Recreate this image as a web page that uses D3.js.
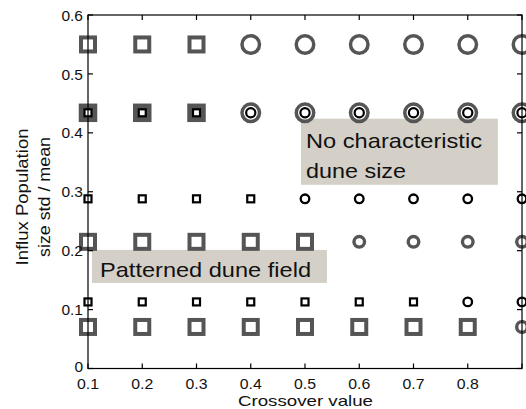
<!DOCTYPE html>
<html>
<head>
<meta charset="utf-8">
<script src="https://cdn.jsdelivr.net/npm/d3@7"></script>
<style>
  html, body { margin: 0; padding: 0; background: #fff; }
  svg { display: block; font-family: "Liberation Sans", Arial, sans-serif; }
</style>
</head>
<body>
<svg id="chart" width="526" height="409"></svg>
<script>
// ---- data ----
const crossoverValues = [0.1, 0.2, 0.3, 0.4, 0.5, 0.6, 0.7, 0.8, 0.9];
const xTickValues = [0.1, 0.2, 0.3, 0.4, 0.5, 0.6, 0.7, 0.8, 0.9];
const xTickLabels = ["0.1", "0.2", "0.3", "0.4", "0.5", "0.6", "0.7", "0.8", ""];
const yTickValues = [0, 0.1, 0.2, 0.3, 0.4, 0.5, 0.6];
const yTickLabels = ["0", "0.1", "0.2", "0.3", "0.4", "0.5", "0.6"];

// rows of the experiment grid: influx std/mean value, marker kind per crossover value
// s = square (patterned dune field), c = circle (no characteristic dune size)
const rowValues = [0.55, 0.434, 0.288, 0.215, 0.113, 0.0705];
const rowShapes = [
  ["s","s","s","c","c","c","c","c","c"],
  ["s","s","s","c","c","c","c","c","c"],
  ["s","s","s","s","c","c","c","c","c"],
  ["s","s","s","s","s","c","c","c","c"],
  ["s","s","s","s","s","s","s","c","c"],
  ["s","s","s","s","s","s","s","s","c"]
];
const rowStyle = ["bigGray", "doubleGray", "smallBlack", "midGray", "smallBlack", "midGray"];

const annotations = [
  { lines: ["No characteristic", "dune size"] },
  { lines: ["Patterned dune field"] }
];

// ---- layout ----
(function () {
const svg = d3.select("#chart");
const pL = 88, pR = 522, pT = 15, pB = 368.5;
const x = d3.scaleLinear().domain([0.1, 0.9]).range([pL, pR]);
const y = d3.scaleLinear().domain([0, 0.6]).range([pB, pT]);
const gray = "#555555";

const styles = {
  bigGray:    { sq: [14, 4, gray],  ci: [8.75, 3.5, gray] },
  midGray:    { sq: [14, 4, gray],  ci: [5.3, 3.4, gray] },
  smallBlack: { sq: [7, 2.2, "#000"], ci: [4.3, 2.3, "#000"] },
  doubleGray: { sq: [13, 5.5, gray], ci: [8.75, 3.5, gray],
                inner: { sq: [7, 2.2, "#000"], ci: [4.6, 2.2, "#000"] } }
};

const pts = [];
rowValues.forEach((rv, i) => {
  crossoverValues.forEach((cv, j) => {
    pts.push({ x: cv, y: rv, shape: rowShapes[i][j], style: rowStyle[i] });
  });
});

function drawMarker(g, d, spec) {
  const cx = x(d.x), cy = y(d.y);
  if (d.shape === "s") {
    const [s, sw, col] = spec.sq;
    g.append("rect").attr("x", cx - s/2).attr("y", cy - s/2)
      .attr("width", s).attr("height", s)
      .attr("fill", "none").attr("stroke", col).attr("stroke-width", sw);
  } else {
    const [r, sw, col] = spec.ci;
    g.append("circle").attr("cx", cx).attr("cy", cy).attr("r", r)
      .attr("fill", "none").attr("stroke", col).attr("stroke-width", sw);
  }
}

const annG = svg.append("g");
function box(x0, y0, x1, y1) {
  annG.append("rect").attr("x", x(x0)).attr("y", y(y0))
    .attr("width", x(x1) - x(x0)).attr("height", y(y1) - y(y0))
    .attr("fill", "#d4d0c8");
}
box(0.4926, 0.4240, 0.8555, 0.3118);
annG.append("text").attr("x", 306).attr("y", 148).attr("font-size", 21).attr("fill", "#111")
  .text(annotations[0].lines[0]).attr("textLength", 176).attr("lengthAdjust", "spacingAndGlyphs");
annG.append("text").attr("x", 306).attr("y", 177.5).attr("font-size", 21).attr("fill", "#111")
  .text(annotations[0].lines[1]).attr("textLength", 100).attr("lengthAdjust", "spacingAndGlyphs");
box(0.1074, 0.2013, 0.5404, 0.1452);
annG.append("text").attr("x", 100).attr("y", 276.5).attr("font-size", 21).attr("fill", "#111")
  .text(annotations[1].lines[0]).attr("textLength", 211).attr("lengthAdjust", "spacingAndGlyphs");

const mG = svg.append("g");
pts.forEach(d => {
  const spec = styles[d.style];
  drawMarker(mG, d, spec);
  if (spec.inner) drawMarker(mG, d, spec.inner);
});

const axG = svg.append("g").attr("stroke", "#000").attr("stroke-width", 1.2);
axG.append("rect").attr("x", pL).attr("y", pT).attr("width", pR - pL)
  .attr("height", pB - pT).attr("fill", "none");
const tl = 5;
xTickValues.forEach(v => {
  axG.append("line").attr("x1", x(v)).attr("x2", x(v)).attr("y1", pB).attr("y2", pB - tl);
  axG.append("line").attr("x1", x(v)).attr("x2", x(v)).attr("y1", pT).attr("y2", pT + tl);
});
yTickValues.forEach(v => {
  axG.append("line").attr("x1", pL).attr("x2", pL + tl).attr("y1", y(v)).attr("y2", y(v));
  axG.append("line").attr("x1", pR).attr("x2", pR - tl).attr("y1", y(v)).attr("y2", y(v));
});

const xlG = svg.append("g").attr("font-size", 15).attr("fill", "#111");
xTickValues.forEach((v, i) => {
  xlG.append("text").attr("x", x(v)).attr("y", 389).attr("text-anchor", "middle")
    .attr("textLength", xTickLabels[i] ? 22 : null).attr("lengthAdjust", "spacingAndGlyphs")
    .text(xTickLabels[i]);
});
const ylG = svg.append("g").attr("font-size", 15.5).attr("fill", "#111");
yTickValues.forEach((v, i) => {
  ylG.append("text").attr("x", 83).attr("y", Math.min(y(v) + 5.6, 372)).attr("text-anchor", "end")
    .text(yTickLabels[i]);
});

svg.append("text").attr("x", 305.5).attr("y", 406).attr("text-anchor", "middle")
  .attr("font-size", 14.5).attr("fill", "#111")
  .attr("textLength", 135).attr("lengthAdjust", "spacingAndGlyphs").text("Crossover value");
const yt = svg.append("g").attr("transform", "translate(0,197) rotate(-90)");
yt.append("text").attr("x", 0).attr("y", 27.5).attr("text-anchor", "middle")
  .attr("font-size", 17).attr("fill", "#111")
  .attr("textLength", 137).attr("lengthAdjust", "spacingAndGlyphs").text("Influx Population");
yt.append("text").attr("x", 0).attr("y", 50).attr("text-anchor", "middle")
  .attr("font-size", 17).attr("fill", "#111")
  .attr("textLength", 120).attr("lengthAdjust", "spacingAndGlyphs").text("size std / mean");
})();
</script>
</body>
</html>
